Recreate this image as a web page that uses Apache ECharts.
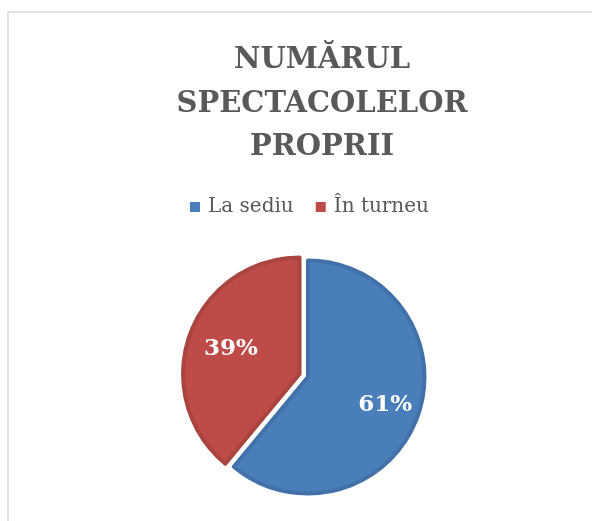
<!DOCTYPE html>
<html><head><meta charset="utf-8">
<script src="https://cdn.jsdelivr.net/npm/echarts@6/dist/echarts.min.js"></script>
<style>html,body{margin:0;padding:0;background:#fff}#c{width:592px;height:521px}</style>
</head><body><div id="c"></div>
<script>
var titleLines = ['NUMĂRUL', 'SPECTACOLELOR', 'PROPRII'];
var categories = ['La sediu', 'În turneu'];
var values = [61, 39];
var fillColors = ['#4a7ebb', '#be4b48'];
var edgeColors = ['#4271a9', '#a9443f'];

var chart = echarts.init(document.getElementById('c'));
var font = 'DejaVu Serif';
chart.setOption({
  backgroundColor: '#fff',
  animation: false,
  title: {
    text: titleLines.join('\n'),
    left: 317, top: 34, textAlign: 'center',
    textStyle: { fontFamily: font, fontWeight: 'bold', fontSize: 29, color: '#595959', lineHeight: 43.5 }
  },
  legend: {
    data: categories, left: 190, top: 197, padding: 0, icon: 'rect', itemWidth: 10, itemHeight: 10, itemGap: 22,
    selectedMode: false,
    itemStyle: { borderWidth: 0 },
    textStyle: { fontFamily: font, fontSize: 20, color: '#595959', padding: [0, 0, 0, 3] }
  },
  graphic: [{
    type: 'rect', shape: { x: 8, y: 12, width: 700, height: 700 },
    style: { fill: 'none', stroke: '#d9d9d9', lineWidth: 1.5 }, silent: true
  }],
  series: [{
    type: 'pie', center: [308, 377], radius: 116.5, startAngle: 90, clockwise: true,
    selectedMode: 'single', selectedOffset: 9,
    label: { show: false }, labelLine: { show: false },
    emphasis: { disabled: true },
    data: categories.map(function (n, i) {
      return { name: n, value: values[i], selected: i === 1,
        itemStyle: { color: fillColors[i], borderColor: edgeColors[i], borderWidth: 4 } };
    })
  }, {
    type: 'pie', center: [308, 377], radius: 158, startAngle: 90, clockwise: true, silent: true,
    emphasis: { disabled: true },
    itemStyle: { color: 'rgba(0,0,0,0)' },
    label: { show: true, position: 'inside', formatter: '{d}%', color: '#fff', fontFamily: font, fontWeight: 'bold', fontSize: 23 },
    labelLine: { show: false },
    data: categories.map(function (n, i) { return { name: n, value: values[i] }; })
  }]
});
</script></body></html>
